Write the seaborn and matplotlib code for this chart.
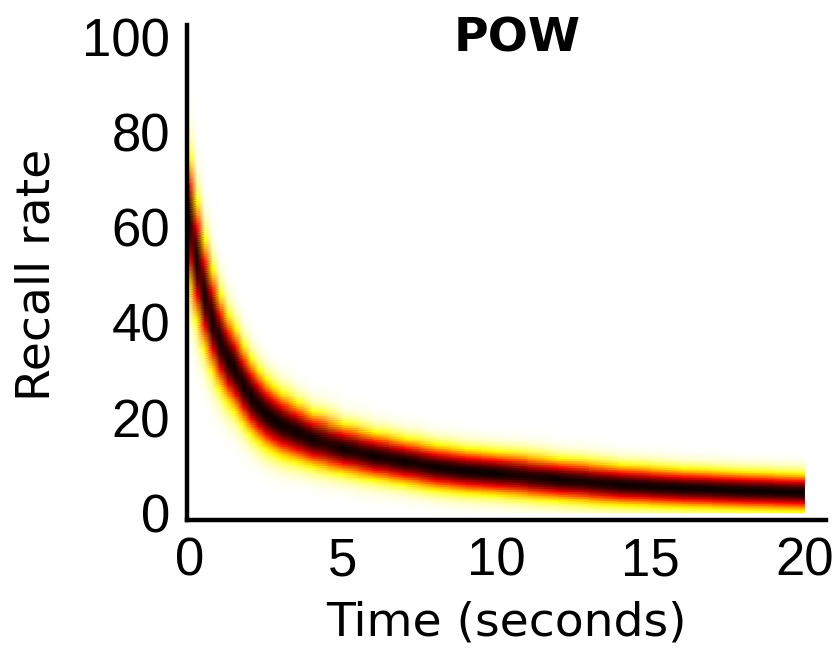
import numpy as np
import matplotlib
matplotlib.use("Agg")
import matplotlib.pyplot as plt
import seaborn as sns

# values
time_s = [0, 0.25, 0.5, 0.75, 1, 1.25, 1.5, 1.75, 2, 2.25, 2.5, 2.75, 3, 3.5, 4,
          5, 6, 7, 8, 9, 10, 12, 14, 16, 18, 20]
recall_mid = [61, 53, 46, 40.5, 36, 32.5, 30, 27, 24.5, 22.5, 20.8, 19.6, 18.5, 17, 15.5,
              13.5, 12, 10.8, 9.6, 8.8, 8.3, 7.0, 5.9, 5.2, 4.7, 4.3]
recall_spread = [8.2, 7.6, 7.0, 6.5, 6.0, 5.6, 5.3, 5.0, 4.8, 4.6, 4.4, 4.25, 4.1, 3.8, 3.5,
                 3.2, 3.05, 2.95, 2.9, 2.85, 2.8, 2.7, 2.6, 2.5, 2.45, 2.4]
recall_grid = np.arange(0, 100.5, 0.5)
x_ticks = [0, 5, 10, 15, 20]
y_ticks = [0, 20, 40, 60, 80, 100]

sns.set_style("white")
plt.rcParams["font.family"] = ["DejaVu Sans"]
plt.rcParams["text.color"] = "black"
plt.rcParams["xtick.color"] = "black"
plt.rcParams["ytick.color"] = "black"

T, V = np.meshgrid(time_s, recall_grid)
mid = np.array(recall_mid)[None, :]
spread = np.array(recall_spread)[None, :]
density = np.exp(-0.5 * ((V - mid) / spread) ** 2)

fig = plt.figure(figsize=(8.36, 6.5), dpi=100)
ax = fig.add_axes([0.2237, 0.2, 0.7643, 0.7615])
ax.pcolormesh(T, V, density, shading="gouraud", cmap="hot_r", vmin=0, vmax=1.0,
              rasterized=True)

ax.set_xlim(-0.07, 20.7)
ax.set_ylim(-1.5, 102.5)
ax.set_xticks(x_ticks)
ax.set_yticks(y_ticks)
sns.despine(ax=ax)
for s in ["left", "bottom"]:
    ax.spines[s].set_linewidth(3.2)
    ax.spines[s].set_color("black")
ax.tick_params(direction="in", length=4, width=1, color="0.3", labelcolor="black")
ax.tick_params(axis="x", pad=12)
ax.tick_params(axis="y", pad=12)
for lab in ax.get_xticklabels() + ax.get_yticklabels():
    lab.set_fontfamily("Liberation Sans")
    lab.set_fontsize(38)

ax.text(0.516, 0.972, "POW", transform=ax.transAxes, ha="center", va="center",
        fontsize=34, fontweight="bold", color="black")
fig.text(506 / 836, 1 - 623 / 650, "Time (seconds)", ha="center", va="center",
         fontsize=34, color="black")
fig.text(37 / 836, 1 - 275 / 650, "Recall rate", ha="center", va="center",
         rotation=90, fontsize=34, color="black")

fig.savefig("out.png", dpi=100)
